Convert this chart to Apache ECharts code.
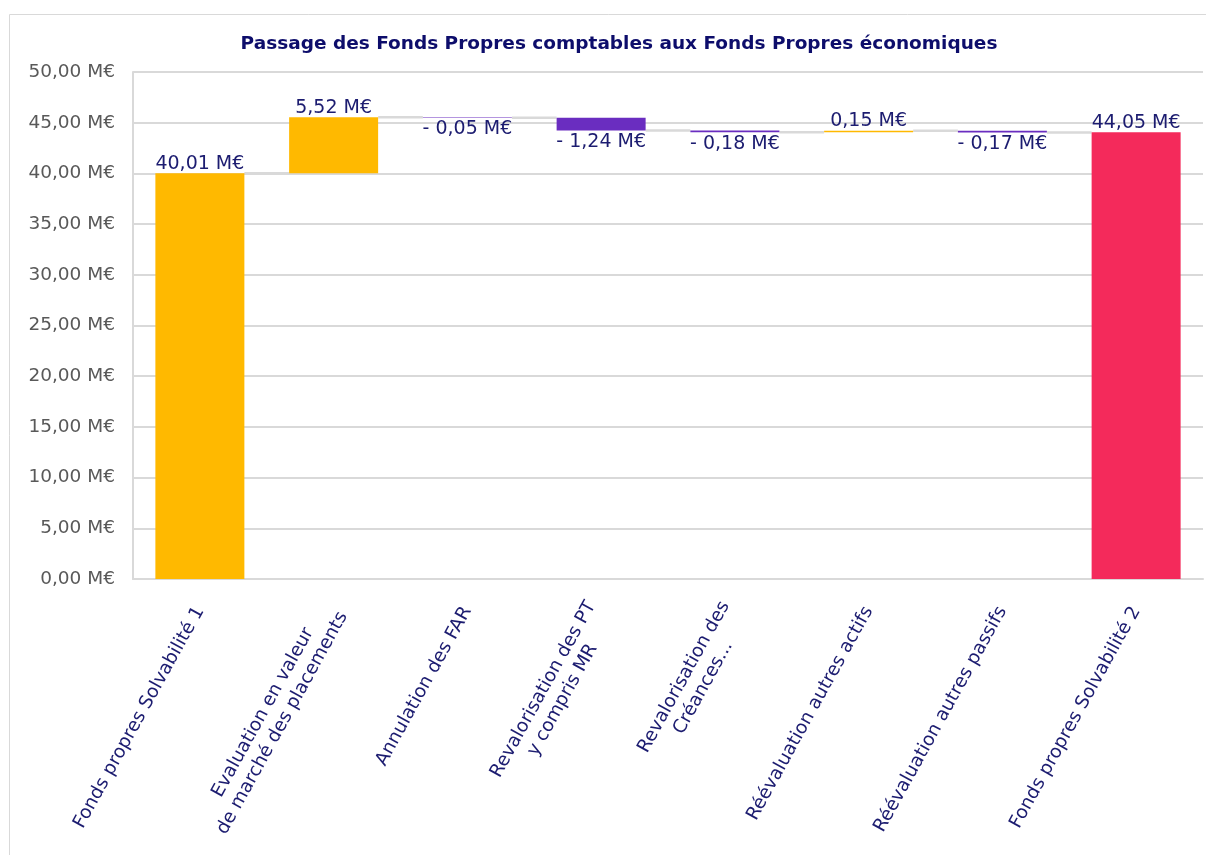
<!DOCTYPE html>
<html>
<head>
<meta charset="utf-8">
<script src="https://cdn.jsdelivr.net/npm/echarts@6/dist/echarts.min.js"></script>
<style>
  html, body { margin: 0; padding: 0; background: #fff; }
  #chart { width: 1206px; height: 855px; }
</style>
</head>
<body>
<div id="chart"></div>
<script>
// categories (axis labels, with line breaks as in the picture)
let categories = [
  "Fonds propres Solvabilité 1",
  "Evaluation en valeur\nde marché des placements",
  "Annulation des FAR",
  "Revalorisation des PT\ny compris MR",
  "Revalorisation des\nCréances...",
  "Réévaluation autres actifs",
  "Réévaluation autres passifs",
  "Fonds propres Solvabilité 2"
];
// signed values; first and last are totals
let deltas = [40.01, 5.52, -0.05, -1.24, -0.18, 0.15, -0.17, 44.05];
let isTotal = [true, false, false, false, false, false, false, true];
let yTicks = { min: 0, max: 50, interval: 5 };

let navy = "#1c1c70";
let fmt = function (v) {
  return v.toFixed(2).replace(".", ",") + " M€";
};

// build the waterfall pieces
let base = [];
let height = [];
let levels = []; // running total after each bar, for the connector lines
let running = 0;
for (let i = 0; i < deltas.length; i++) {
  let d = deltas[i];
  if (isTotal[i]) {
    base.push(0);
    height.push(d);
    running = d;
  } else if (d >= 0) {
    base.push(running);
    height.push(d);
    running += d;
  } else {
    base.push(running + d);
    height.push(-d);
    running += d;
  }
  levels.push(running);
}

let barItems = [];
for (let i = 0; i < deltas.length; i++) {
  let color;
  if (i == deltas.length - 1) color = "#f42a5b";
  else if (deltas[i] >= 0) color = "#ffb900";
  else color = "#6a2dc0";
  barItems.push({
    value: height[i],
    itemStyle: { color: color },
    label: deltas[i] >= 0 ? { position: "top", distance: 0 } : { position: "bottom", distance: 2 }
  });
}

let connectors = [];
for (let i = 0; i < levels.length - 1; i++) {
  connectors.push([i, levels[i]]);
}

var myChart = echarts.init(document.getElementById("chart"));

var option = {
  animation: false,
  textStyle: { fontFamily: "DejaVu Sans" },
  title: {
    text: "Passage des Fonds Propres comptables aux Fonds Propres économiques",
    top: 30,
    left: 614,
    textAlign: "center",
    textStyle: { color: "#0d0d6b", fontSize: 18.5, fontWeight: "bold", fontFamily: "DejaVu Sans" }
  },
  graphic: [
    {
      type: "rect",
      shape: { x: 9.5, y: 14.5, width: 1300, height: 1000 },
      style: { fill: "none", stroke: "#d9d9d9", lineWidth: 1 },
      silent: true
    }
  ],
  grid: { left: 133, right: 3, top: 72, bottom: 276 },
  xAxis: {
    type: "category",
    data: categories,
    axisLine: { show: true, lineStyle: { color: "#d9d9d9", width: 2 } },
    axisTick: { show: false },
    axisLabel: {
      interval: 0,
      rotate: 61,
      margin: 29,
      formatter: function (v) {
        return v.split("\n").map(function (s) { return "{c|" + s + "}"; }).join("\n");
      },
      rich: {
        c: { color: navy, fontSize: 18.5, fontFamily: "DejaVu Sans", align: "center", lineHeight: 22 }
      }
    }
  },
  yAxis: {
    type: "value",
    min: yTicks.min,
    max: yTicks.max,
    interval: yTicks.interval,
    axisLine: { show: true, lineStyle: { color: "#d9d9d9", width: 2 } },
    axisTick: { show: false },
    splitLine: { lineStyle: { color: "#d9d9d9", width: 2 } },
    axisLabel: {
      color: "#595959",
      fontSize: 18.5,
      margin: 18,
      formatter: function (v) { return fmt(v); }
    }
  },
  series: [
    {
      type: "custom",
      z: 1,
      silent: true,
      renderItem: function (params, api) {
        let i = api.value(0);
        let lvl = api.value(1);
        let a = api.coord([i, lvl]);
        let b = api.coord([i + 1, lvl]);
        let hw = api.size([1, 0])[0] * 0.333;
        return {
          type: "line",
          shape: { x1: a[0] + hw, y1: a[1], x2: b[0] - hw, y2: b[1] },
          style: { stroke: "#d9d9d9", lineWidth: 2.5 }
        };
      },
      encode: { x: 0, y: 1 },
      data: connectors
    },
    {
      type: "bar",
      stack: "w",
      barWidth: 89,
      silent: true,
      itemStyle: { color: "transparent" },
      data: base
    },
    {
      type: "bar",
      stack: "w",
      barWidth: 89,
      z: 3,
      label: {
        show: true,
        color: navy,
        fontSize: 19,
        formatter: function (p) {
          let d = deltas[p.dataIndex];
          return d < 0 ? "- " + fmt(-d) : fmt(d);
        }
      },
      data: barItems
    }
  ]
};

option && myChart.setOption(option);
</script>
</body>
</html>
